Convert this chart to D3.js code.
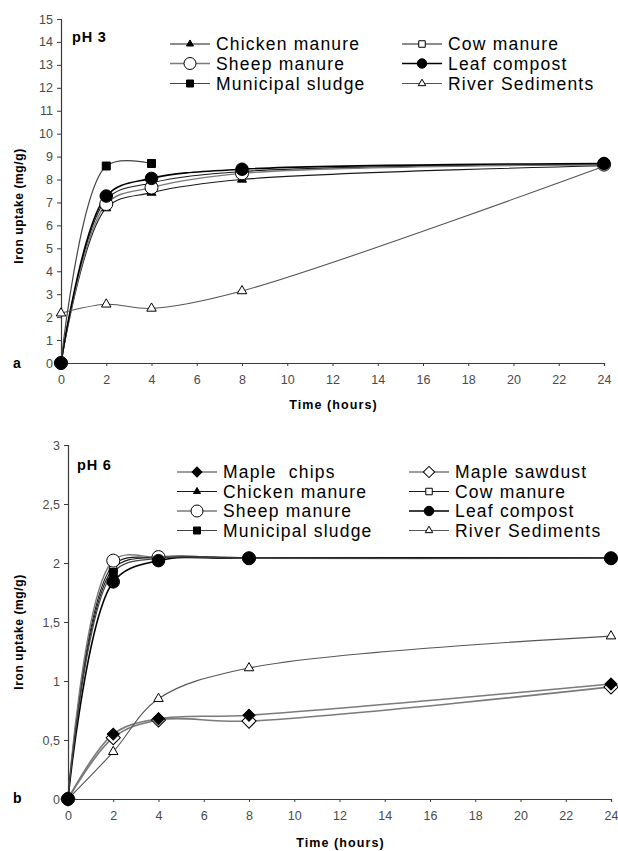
<!DOCTYPE html>
<html>
<head>
<meta charset="utf-8">
<script src="https://cdn.jsdelivr.net/npm/d3@7"></script>
<style>
  html, body { margin: 0; padding: 0; background: #fff; }
  svg { display: block; }
  text { font-family: "Liberation Sans", Arial, sans-serif; }
</style>
</head>
<body>
<svg id="chart" width="618" height="851"></svg>
<script>
// Sampling times (hours)
const hours = [0, 2, 4, 8, 24];
const hoursSludgePH3 = [0, 2, 4];

// Iron uptake (mg/g) at pH 3
const chickenPH3   = [0, 6.75, 7.43, 8.00, 8.60];
const cowPH3       = [0, 7.12, 7.85, 8.35, 8.65];
const sheepPH3     = [0, 6.93, 7.65, 8.27, 8.65];
const leafPH3      = [0, 7.28, 8.05, 8.45, 8.70];
const sludgePH3    = [0, 8.59, 8.70];
const riverPH3     = [2.17, 2.56, 2.38, 3.14, 8.58];

// Iron uptake (mg/g) at pH 6
const mapleChipsPH6   = [0, 0.55, 0.68, 0.71, 0.975];
const mapleSawdustPH6 = [0, 0.52, 0.67, 0.66, 0.95];
const chickenPH6      = [0, 1.95, 2.05, 2.04, 2.04];
const cowPH6          = [0, 1.98, 2.05, 2.045, 2.045];
const sheepPH6        = [0, 2.02, 2.05, 2.04, 2.04];
const leafPH6         = [0, 1.84, 2.02, 2.04, 2.04];
const sludgePH6       = [0, 1.92, 2.04, 2.04, 2.04];
const riverPH6        = [0, 0.40, 0.85, 1.11, 1.38];

// Axis ticks
const xTicks = [0, 2, 4, 6, 8, 10, 12, 14, 16, 18, 20, 22, 24];
const yTicksPH3 = [0, 1, 2, 3, 4, 5, 6, 7, 8, 9, 10, 11, 12, 13, 14, 15];
const yTicksPH6 = [0, 0.5, 1, 1.5, 2, 2.5, 3];

// Series names
const nameMapleChips = "Maple  chips";
const nameMapleSawdust = "Maple sawdust";
const nameChicken = "Chicken manure";
const nameCow = "Cow manure";
const nameSheep = "Sheep manure";
const nameLeaf = "Leaf compost";
const nameSludge = "Municipal sludge";
const nameRiver = "River Sediments";

// Marker and line styles per material
const styles = {
  mapleChips:   { shape: "diamond",  fill: "#000", size: 8.5, legendSize: 7,  stroke: "#7a7a7a", width: 1.6 },
  mapleSawdust: { shape: "diamond",  fill: "#fff", size: 10,  legendSize: 8,  stroke: "#7a7a7a", width: 1.6 },
  chicken:      { shape: "triangle", fill: "#000", size: 9,   legendSize: 7,  stroke: "#1a1a1a", width: 1.1 },
  cow:          { shape: "square",   fill: "#fff", size: 7,   legendSize: 6.5, stroke: "#1a1a1a", width: 1.1 },
  sheep:        { shape: "circle",   fill: "#fff", size: 13,  legendSize: 12, stroke: "#7a7a7a", width: 1.4 },
  leaf:         { shape: "circle",   fill: "#000", size: 12.5, legendSize: 9.5, stroke: "#000", width: 1.6 },
  sludge:       { shape: "square",   fill: "#000", size: 8,   legendSize: 7,  stroke: "#444", width: 1.2 },
  river:        { shape: "triangle", fill: "#fff", size: 9.5, legendSize: 7.5, stroke: "#555", width: 1.1 }
};

// Markers stacking order (bottom to top)
const markerOrder = ["river", "mapleSawdust", "mapleChips", "chicken", "cow", "sludge", "sheep", "leaf"];

const svg = d3.select("#chart");

function markerPath(shape, size) {
  if (shape === "circle") return d3.symbol(d3.symbolCircle, Math.PI * (size / 2) ** 2)();
  if (shape === "square" || shape === "diamond") return d3.symbol(d3.symbolSquare, size * size)();
  // equilateral triangle with side = size
  return d3.symbol(d3.symbolTriangle, size * size * Math.sqrt(3) / 4)();
}

function drawMarker(g, shape, size, fill, x, y) {
  g.append("path")
    .attr("d", markerPath(shape, size))
    .attr("transform", `translate(${x},${y})` + (shape === "diamond" ? " rotate(45)" : ""))
    .attr("fill", fill)
    .attr("stroke", "#000")
    .attr("stroke-width", 1);
}

function drawPanel(cfg) {
  const x = d3.scaleLinear().domain([0, 24]).range([cfg.left, cfg.right]);
  const y = d3.scaleLinear().domain([0, cfg.yMax]).range([cfg.bottom, cfg.top]);
  const g = svg.append("g");

  // y axis
  const yAxis = d3.axisLeft(y).tickValues(cfg.yTicks).tickSize(4).tickPadding(4)
    .tickFormat(cfg.yFormat);
  const ya = g.append("g").attr("transform", `translate(${cfg.left},0)`).call(yAxis);
  // x axis
  const xAxis = d3.axisBottom(x).tickValues(xTicks).tickSize(3).tickPadding(9)
    .tickFormat(d3.format("d"));
  const xa = g.append("g").attr("transform", `translate(0,${cfg.bottom})`).call(xAxis);

  [ya, xa].forEach(a => {
    a.select(".domain").attr("stroke", "#3a3a3a").attr("stroke-width", 1.2);
    a.selectAll(".tick line").attr("stroke", "#3a3a3a");
    a.selectAll(".tick text").attr("fill", "#4a4a4a")
      .style("font-size", "12.5px").style("font-family", "'Liberation Sans', Arial, sans-serif");
  });

  // axis titles
  g.append("text")
    .attr("transform", `translate(${cfg.yTitleX},${cfg.yTitleY}) rotate(-90)`)
    .attr("text-anchor", "middle")
    .style("font-size", "12px").style("font-weight", "bold").style("letter-spacing", "0.6px")
    .text("Iron uptake (mg/g)");
  g.append("text")
    .attr("x", (cfg.left + cfg.right) / 2 + 1).attr("y", cfg.xTitleY)
    .attr("text-anchor", "middle")
    .style("font-size", "12.5px").style("font-weight", "bold").style("letter-spacing", "1.1px")
    .text("Time (hours)");

  // panel letter
  g.append("text").attr("x", cfg.letterX).attr("y", cfg.letterY)
    .style("font-size", "14px").style("font-weight", "bold").text(cfg.letter);

  // pH label
  g.append("text").attr("x", cfg.phX).attr("y", cfg.phY)
    .style("font-size", "14.5px").style("font-weight", "bold").style("letter-spacing", "0.8px")
    .text(cfg.phLabel);

  // series lines
  const line = d3.line()
    .x(d => x(d[0])).y(d => y(d[1]))
    .curve(d3.curveCatmullRom.alpha(0.5));
  cfg.series.forEach(s => {
    const st = styles[s.key];
    const pts = s.t.map((t, i) => [t, s.v[i]]);
    g.append("path").datum(pts)
      .attr("d", line).attr("fill", "none")
      .attr("stroke", st.stroke).attr("stroke-width", st.width);
  });
  // series markers, stacked after all lines
  const ordered = cfg.series.slice().sort((a, b) => markerOrder.indexOf(a.key) - markerOrder.indexOf(b.key));
  ordered.forEach(s => {
    const st = styles[s.key];
    s.t.forEach((t, i) => drawMarker(g, st.shape, st.size, st.fill, x(t), y(s.v[i])));
  });

  // legend
  cfg.legend.forEach(item => {
    const st = styles[item.key];
    const lx = cfg.legendCols[item.col];
    const ly = cfg.legendRows[item.row];
    g.append("line")
      .attr("x1", lx).attr("x2", lx + 40).attr("y1", ly).attr("y2", ly)
      .attr("stroke", st.stroke).attr("stroke-width", st.width);
    drawMarker(g, st.shape, st.legendSize, st.fill, lx + 20, ly);
    g.append("text")
      .attr("x", lx + 46).attr("y", ly + 6.3)
      .style("font-size", "17.5px").style("letter-spacing", "1.2px")
      .style("white-space", "pre")
      .text(item.name);
  });
}

// Panel a: pH 3
drawPanel({
  left: 61, right: 604, top: 19, bottom: 363, yMax: 15,
  yTicks: yTicksPH3, yFormat: d3.format("d"),
  yTitleX: 23, yTitleY: 206, xTitleY: 409,
  letter: "a", letterX: 13, letterY: 368,
  phLabel: "pH 3", phX: 72, phY: 42,
  legendCols: [170, 402], legendRows: [44, 63.5, 83.5],
  series: [
    { key: "chicken", t: hours, v: chickenPH3 },
    { key: "cow",     t: hours, v: cowPH3 },
    { key: "sheep",   t: hours, v: sheepPH3 },
    { key: "leaf",    t: hours, v: leafPH3 },
    { key: "sludge",  t: hoursSludgePH3, v: sludgePH3 },
    { key: "river",   t: hours, v: riverPH3 }
  ],
  legend: [
    { key: "chicken", name: nameChicken, col: 0, row: 0 },
    { key: "cow",     name: nameCow,     col: 1, row: 0 },
    { key: "sheep",   name: nameSheep,   col: 0, row: 1 },
    { key: "leaf",    name: nameLeaf,    col: 1, row: 1 },
    { key: "sludge",  name: nameSludge,  col: 0, row: 2 },
    { key: "river",   name: nameRiver,   col: 1, row: 2 }
  ]
});

// Panel b: pH 6
drawPanel({
  left: 68, right: 611, top: 445, bottom: 799, yMax: 3,
  yTicks: yTicksPH6, yFormat: d => d3.format("")(d).replace(".", ","),
  yTitleX: 23, yTitleY: 632, xTitleY: 847,
  letter: "b", letterX: 13, letterY: 803,
  phLabel: "pH 6", phX: 77, phY: 470,
  legendCols: [177, 409], legendRows: [472, 491.5, 511, 530.5],
  series: [
    { key: "mapleChips",   t: hours, v: mapleChipsPH6 },
    { key: "mapleSawdust", t: hours, v: mapleSawdustPH6 },
    { key: "chicken",      t: hours, v: chickenPH6 },
    { key: "cow",          t: hours, v: cowPH6 },
    { key: "sheep",        t: hours, v: sheepPH6 },
    { key: "leaf",         t: hours, v: leafPH6 },
    { key: "sludge",       t: hours, v: sludgePH6 },
    { key: "river",        t: hours, v: riverPH6 }
  ],
  legend: [
    { key: "mapleChips",   name: nameMapleChips,   col: 0, row: 0 },
    { key: "mapleSawdust", name: nameMapleSawdust, col: 1, row: 0 },
    { key: "chicken",      name: nameChicken,      col: 0, row: 1 },
    { key: "cow",          name: nameCow,          col: 1, row: 1 },
    { key: "sheep",        name: nameSheep,        col: 0, row: 2 },
    { key: "leaf",         name: nameLeaf,         col: 1, row: 2 },
    { key: "sludge",       name: nameSludge,       col: 0, row: 3 },
    { key: "river",        name: nameRiver,        col: 1, row: 3 }
  ]
});
</script>
</body>
</html>
